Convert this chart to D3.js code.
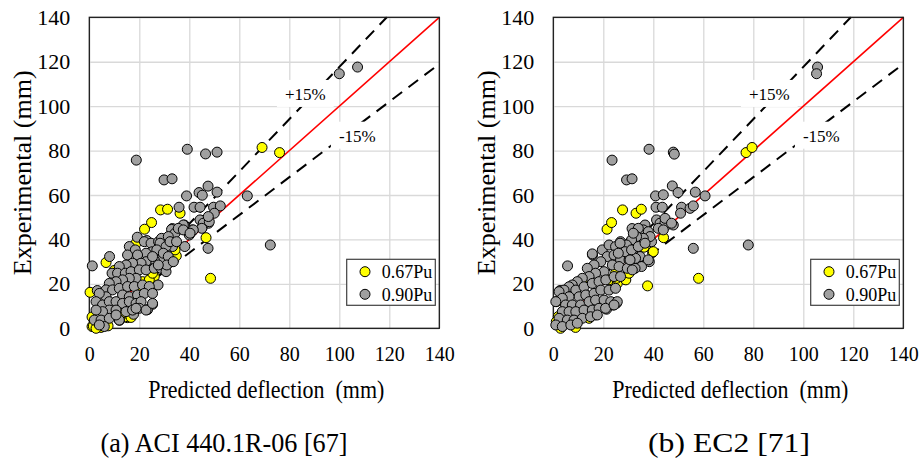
<!DOCTYPE html>
<html>
<head>
<meta charset="utf-8">
<script src="https://cdn.jsdelivr.net/npm/d3@7"></script>
<style>
  body { margin: 0; background: #fff; }
  svg text { font-family: 'Liberation Serif', 'DejaVu Serif', 'Times New Roman', Times, serif !important; fill: #000; }
</style>
</head>
<body>
<div id="chart"></div>
<script>
var serif = "'Liberation Serif', 'DejaVu Serif', 'Times New Roman', Times, serif";

// axis ticks (mm)
var ticks = [0, 20, 40, 60, 80, 100, 120, 140];
var seriesNames = ["0.67Pu", "0.90Pu"];
var captions = ["(a) ACI 440.1R-06 [67]", "(b) EC2 [71]"];

// (a) ACI 440.1R-06 : [predicted, experimental]
var aciYellow = [
  [69.1,81.4],[76.1,79.1],[48.5,22.5],[46.7,40.8],[28.5,53.3],[31.3,53.6],[36.3,51.8],[24.9,47.6],
  [22.1,44.6],[34.8,32.6],[33.1,30],[6.7,29.6],[9.9,26],[0.3,16.2],[1.1,5.1],[1.1,0.8],[7.5,1.1],
  [5.2,1.5],[17.9,37.1],[26,23.3],[24.9,19.1],[22.8,18.8],[20.1,19.2],[13.9,7.2],[15.2,4.8],[16.1,5.3],
  [1.6,1.0],[4.7,0.4],[14.4,5.2],[15.3,6.7],[12.7,9.7],[11,21.8],[21.3,21],[24,21.8],[25.3,24.8],
  [30.7,28],[18.7,38.3],[13.1,6.7],[16.7,4.9],[2.7,0],[37.6,44.6],[34.3,35.3]
];
var aciGray = [
  [100,114.6],[107.3,117.6],[39.2,80.6],[46.5,78.5],[51.1,79.3],[18.8,75.7],[29.9,66.8],[33.1,67.3],
  [38.9,59.6],[43.9,61.1],[45.2,59.9],[47.5,64],[51.1,61.3],[63.2,59.6],[72.4,37.5],[41.9,54.5],
  [44.3,54.5],[35.9,54.5],[49.7,54.5],[52.4,55.1],[50,51.8],[44.8,48.5],[47.7,47.3],[45.1,45.3],
  [47.5,36],[38.2,36.8],[41.2,44.3],[40,42],[38,46.5],[33.2,44.9],[19.2,41],[23,39.5],[8.1,32.3],
  [1.2,28.1],[3.2,17],[27.5,19.5],[25.3,10.8],[23.3,8.4],[12.1,3.6],[17.7,6.3],
  [16,36.8],[18.4,35.3],[22,39],[24.7,38.3],[27.7,39],[30.7,38.3],[33.3,36.8],[25.3,34.5],[22.7,33.8],
  [19.3,33],[15.3,33],[27.3,33.8],[30.7,33.8],[32,30.8],[28.7,30.8],[26,30.8],[22.7,30],[20.7,29.3],
  [17.3,29.3],[14.7,28.5],[12,27.8],[9.1,24.8],[11.3,24.8],[14.4,24.8],[16.7,25.5],[20,26.3],[22.7,26.3],
  [26,27],[28.7,27],[30.7,25.5],[18.7,22.5],[16,22.5],[13.3,21.8],[10.7,21],[8,20.2],[6.7,17.3],
  [9.3,17.3],[12,18],[15.3,18.8],[18,18.8],[21.3,19.5],[24,18.8],[13.3,15],[16,14.2],[19.3,15],
  [22,15.7],[25.3,15.7],[6.7,14.2],[4,15.7],[2.7,12],[5.3,10.5],[8,12],[10.7,12],[13.3,11.2],[16,12],
  [18.7,11.2],[20.7,12],[8,8.2],[5.3,7.5],[2.7,8.2],[10.7,8.2],[2,3.7],[4.7,3.7],[8,4.5],[12,3.7],
  [14.7,7.5],[17.3,8.2],[20,9],[22.7,8.2],[25.3,11.2],[10.7,6],[6,0.8],[4,1.5],[18.7,9],
  [37.6,46.5],[44.3,48.8],[45.6,47.3],[48,48],[47.6,50.3],[41,43.5],[45,45],[32.9,44.5],[34.3,42.8],
  [35.6,45],[37.6,44.3],[41.6,44.3],[40.3,42.8],[28.9,40.5],[31.6,41.3],[28.3,38.3],[30.7,36.8],
  [32.3,39],[34.9,39],[27,35.3],[29.6,33.8],[31.6,32.3],[31,28.5],[33.6,30],[27.6,28.5],[25.3,32.3]
];

// (b) EC2
var ec2Yellow = [
  [77.1,79.1],[79.5,81.4],[58.1,22.5],[37.7,19.1],[44.1,40.8],[27.7,53.3],[33.1,51.8],[35.2,53.6],
  [21.5,44.6],[23.3,47.6],[36.3,36.5],[39.7,34.1],[37.1,44.6],[30.9,30],[28.7,22],[11.7,21.5],
  [1.3,12],[2,5.3],[3.1,0.8],[8.7,1.5],[13.3,6.8],[14.4,5.3],[22.3,21.8],[25.6,20.2],[29,21.8],
  [13,7.5],[14.3,4.5],[2.9,0],[8.9,0.4],[1.2,3],[24.9,24.8],[30.3,24.8],[40,34.5],[25.3,22.5]
];
var ec2Gray = [
  [105.7,117.6],[105.3,114.6],[38.3,80.6],[48,79.3],[48.4,78.4],[23.5,75.7],[29.3,66.8],[31.5,67.3],
  [40.9,59.6],[44,60.1],[47.6,64.1],[49.9,61.1],[56.8,61.3],[60.7,59.6],[78,37.5],[56,36],[41.1,54.5],
  [43.6,54.5],[51.3,54.5],[50.9,51.8],[54.7,54],[56,55.1],[42.4,48],[44.7,48.8],[43.3,45],[45.3,46.5],
  [48,46.5],[36.7,46.5],[31.5,44.9],[5.7,28.1],[2.7,17],[15.7,33],[25.3,11.3],[24,10.5],[21.3,8.6],
  [16.7,6],[38.4,40.5],[39.3,39],[38.4,30],[35.3,27.8],[32.7,27],[34.7,32.3],
  [15.6,33.5],[19.6,35.3],[22.3,37.5],[24.9,36.8],[26.9,39],[30.3,38.3],[32.9,39],[29,35.3],[31.6,34.5],
  [21.6,32.3],[24.3,33],[26.9,30.8],[30.3,30.8],[32.9,31.5],[19,30],[16.3,28.5],[13.6,27],[23.6,28.5],
  [26.3,27.8],[29.6,27],[31.6,26.3],[20.3,25.5],[16.9,24.8],[14.3,23.3],[11.6,22.5],[9.6,21],[7.6,19.5],
  [6.3,18.7],[4.3,17.2],[2.3,16.5],[9,17.2],[12.3,18.7],[15.6,20.2],[18.3,21],[21,21.8],[24.3,23.3],
  [26.9,23.3],[10.3,14.2],[13,15],[16.3,15.7],[19,17.2],[22.3,17.2],[24.9,18],[6.3,14.2],[3.6,13.5],
  [1,12],[4.9,10.5],[7.6,10.5],[10.9,10.5],[14.3,12],[16.9,12.7],[20.3,12.7],[23,12],[25.6,12],
  [3.6,7.5],[6.3,7.5],[9,7.5],[12.3,8.2],[15.6,8.2],[18.3,9],[20.9,9],[24.3,10.5],[2.3,4.5],[5.6,3.7],
  [8.3,3.7],[11.6,4.5],[14.9,5.2],[17.6,6],[1,1.5],[3.6,0.8],[7,1.5],[9.6,2.3],
  [41.3,48.8],[42.7,47.3],[44.7,47.6],[44.7,49.5],[47.3,47.3],[42,45],[44,44.3],[36,44.3],[38,43.5],
  [34,45],[38.7,41.3],[36,40.5],[33.3,41.3],[31.3,39.8],[32,42.8],[29.3,37.5],[26.7,38.3],[28.7,34.5],
  [26,33.8],[31.3,35.3],[34,36.8],[36.7,38.3],[38,30.8],[30.7,30.8]
];

var svgWidth = 921;
var svgHeight = 462;
var plotW = 350;
var plotH = 311;
var top0 = 17.3;

var svg = d3.select("#chart")
  .append("svg")
  .attr("width", svgWidth)
  .attr("height", svgHeight)
  .attr("font-family", serif);

var x = d3.scaleLinear().domain([0, 140]).range([0, plotW]);
var y = d3.scaleLinear().domain([0, 140]).range([plotH, 0]);

// squeeze a text to a given length
function fit(sel, len) {
  sel.attr("textLength", len).attr("lengthAdjust", "spacingAndGlyphs");
  return sel;
}

function drawPanel(left, yellow, gray) {
  var g = svg.append("g").attr("transform", `translate(${left}, ${top0})`);

  // gridlines
  g.append("g")
    .call(d3.axisLeft(y).tickValues(ticks).tickSize(-plotW).tickFormat(""))
    .call(s => s.select(".domain").remove())
    .selectAll("line").attr("stroke", "#d9d9d9").attr("stroke-width", 1.3);
  g.append("g")
    .attr("transform", `translate(0, ${plotH})`)
    .call(d3.axisBottom(x).tickValues(ticks).tickSize(-plotH).tickFormat(""))
    .call(s => s.select(".domain").remove())
    .selectAll("line").attr("stroke", "#d9d9d9").attr("stroke-width", 1.3);

  // 1:1 line and +/-15% lines
  g.append("line")
    .attr("x1", x(0)).attr("y1", y(0))
    .attr("x2", x(140)).attr("y2", y(140))
    .attr("stroke", "#ff0000").attr("stroke-width", 1.6);
  g.append("line")
    .attr("x1", x(0)).attr("y1", y(0))
    .attr("x2", x(140 * 0.85)).attr("y2", y(140))
    .attr("stroke", "#000").attr("stroke-width", 2).attr("stroke-dasharray", "12,8");
  g.append("line")
    .attr("x1", x(0)).attr("y1", y(0))
    .attr("x2", x(140)).attr("y2", y(140 * 0.85))
    .attr("stroke", "#000").attr("stroke-width", 2).attr("stroke-dasharray", "12,8");

  // labels with white boxes
  [["+15%", 86.4, 102.8], ["-15%", 107.2, 84]].forEach(function(d) {
    var t = g.append("text")
      .attr("x", x(d[1])).attr("y", y(d[2]))
      .attr("text-anchor", "middle")
      .attr("font-family", serif)
      .style("font-size", "17px")
      .text(d[0]);
    var bb = t.node().getBBox();
    g.insert("rect", function() { return t.node(); })
      .attr("x", bb.x - 8).attr("y", bb.y - 5)
      .attr("width", bb.width + 16).attr("height", bb.height + 8)
      .attr("fill", "#fff");
  });

  // frame
  g.append("rect")
    .attr("width", plotW).attr("height", plotH)
    .attr("fill", "none").attr("stroke", "#1a1a1a").attr("stroke-width", 1.3);

  // points
  g.append("g").selectAll("circle")
    .data(yellow)
    .enter()
    .append("circle")
    .attr("cx", d => x(d[0]))
    .attr("cy", d => y(d[1]))
    .attr("r", 5)
    .attr("fill", "#ffff00")
    .attr("stroke", "#000")
    .attr("stroke-width", 1);
  g.append("g").selectAll("circle")
    .data(gray)
    .enter()
    .append("circle")
    .attr("cx", d => x(d[0]))
    .attr("cy", d => y(d[1]))
    .attr("r", 5)
    .attr("fill", "#a0a0a0")
    .attr("stroke", "#000")
    .attr("stroke-width", 1);

  // axis labels
  var leftAxis = g.append("g")
    .call(d3.axisLeft(y).tickValues(ticks).tickSize(0).tickPadding(19));
  leftAxis.attr("font-family", serif);
  leftAxis.select(".domain").remove();
  leftAxis.selectAll("text").attr("font-family", serif).style("font-size", "22px");

  var bottomAxis = g.append("g")
    .attr("transform", `translate(0, ${plotH})`)
    .call(d3.axisBottom(x).tickValues(ticks).tickSize(0).tickPadding(19));
  bottomAxis.attr("font-family", serif);
  bottomAxis.select(".domain").remove();
  bottomAxis.selectAll("text").attr("font-family", serif).style("font-size", "20px");

  fit(g.append("text")
    .attr("transform", `translate(${-58}, ${plotH / 2}) rotate(-90)`)
    .attr("text-anchor", "middle")
    .attr("font-family", serif)
    .style("font-size", "26px")
    .text("Experimental (mm)"), 205);

  fit(g.append("text")
    .attr("x", plotW / 2 + 2).attr("y", plotH + 70)
    .attr("text-anchor", "middle")
    .attr("font-family", serif)
    .style("font-size", "25px")
    .style("white-space", "pre")
    .text("Predicted deflection  (mm)"), 236);

  // legend
  var lg = g.append("g").attr("transform", `translate(257.4, 242)`);
  lg.append("rect")
    .attr("width", 88.6).attr("height", 46)
    .attr("fill", "#fff").attr("stroke", "#404040").attr("stroke-width", 1.2);
  [["#ffff00", seriesNames[0]], ["#a0a0a0", seriesNames[1]]].forEach(function(d, i) {
    lg.append("circle")
      .attr("cx", 18.3).attr("cy", 12.4 + i * 22.6).attr("r", 5)
      .attr("fill", d[0]).attr("stroke", "#000");
    lg.append("text")
      .attr("x", 35).attr("y", 12.4 + i * 22.6)
      .attr("dy", "0.35em")
      .attr("font-family", serif)
      .style("font-size", "18px")
      .text(d[1]);
  });

  return g;
}

drawPanel(89.3, aciYellow, aciGray);
drawPanel(553.3, ec2Yellow, ec2Gray);

// sub-figure captions
fit(svg.append("text")
  .attr("x", 224).attr("y", 452)
  .attr("text-anchor", "middle")
  .attr("font-family", serif)
  .style("font-size", "27px")
  .text(captions[0]), 247);
fit(svg.append("text")
  .attr("x", 729).attr("y", 452)
  .attr("text-anchor", "middle")
  .attr("font-family", serif)
  .style("font-size", "27px")
  .text(captions[1]), 162);
</script>
</body>
</html>
